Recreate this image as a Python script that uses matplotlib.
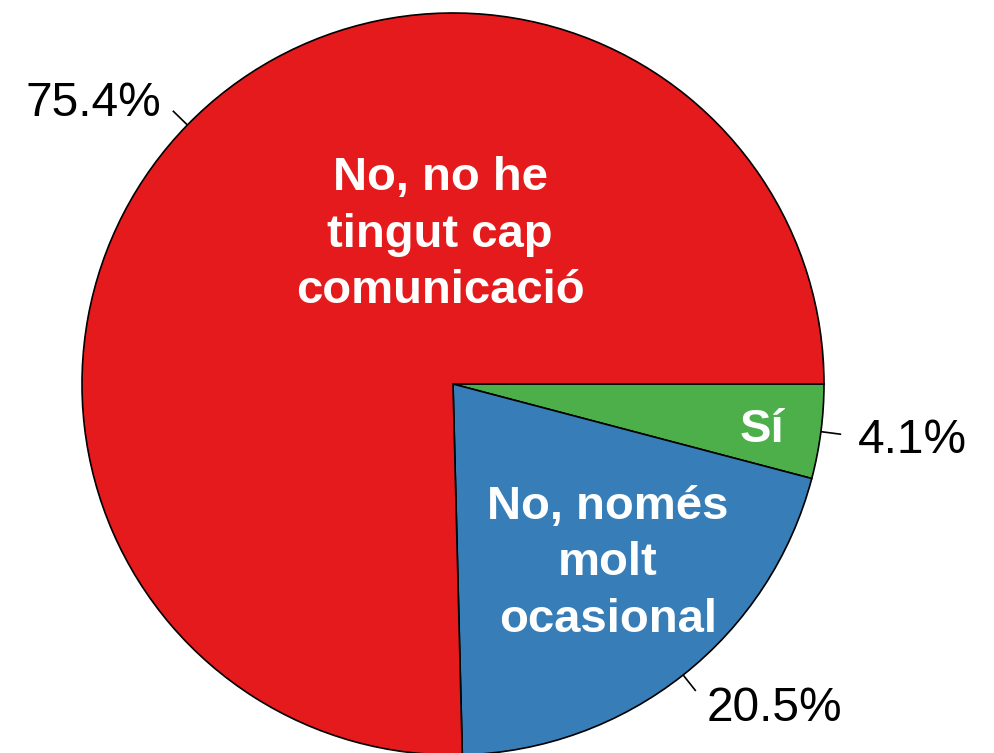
import matplotlib
matplotlib.use("Agg")
import matplotlib.pyplot as plt
import numpy as np

plt.rcParams['font.family'] = ['Liberation Sans', 'DejaVu Sans']

categories = ["Sí", "No, només\nmolt\nocasional", "No, no he\ntingut cap\ncomunicació"]
values = [4.1, 20.5, 75.4]
pct_labels = ["4.1%", "20.5%", "75.4%"]
colors = ["#4DAF4A", "#377EB8", "#E41A1C"]

W, H = 995, 753
cx, cy, R = 453, 384, 371

fig = plt.figure(figsize=(W / 100, H / 100), dpi=100)
ax = fig.add_axes([0, 0, 1, 1])

wedges, texts = ax.pie(values, labels=pct_labels, colors=colors, startangle=0,
                       counterclock=False, radius=1.0, center=(0, 0),
                       labeldistance=1.1,
                       wedgeprops=dict(edgecolor='black', linewidth=1.2),
                       textprops=dict(fontsize=34.5, color='black'),
                       frame=True)
ax.set_xlim(-cx / R, (W - cx) / R)
ax.set_ylim(-(H - cy) / R, cy / R)
ax.set_aspect('equal')
ax.axis('off')

for w, t in zip(wedges, texts):
    mid = np.deg2rad((w.theta1 + w.theta2) / 2)
    ax.plot([np.cos(mid) * 1.0, np.cos(mid) * 1.055],
            [np.sin(mid) * 1.0, np.sin(mid) * 1.055],
            color='black', linewidth=1.2, solid_capstyle='butt')
    x, y = t.get_position()
    t.set_position((x, y - 4 / R))

# inner labels (positions in axes data units relative to pie centre)
inner_pos = [(0.833, -0.125), (0.418, -0.483), (-0.035, 0.402)]
for name, (x, y) in zip(categories, inner_pos):
    ax.text(x, y, name, ha='center', va='center', fontsize=34,
            fontweight='bold', color='white', linespacing=1.37)

fig.savefig("out.png", dpi=100)
